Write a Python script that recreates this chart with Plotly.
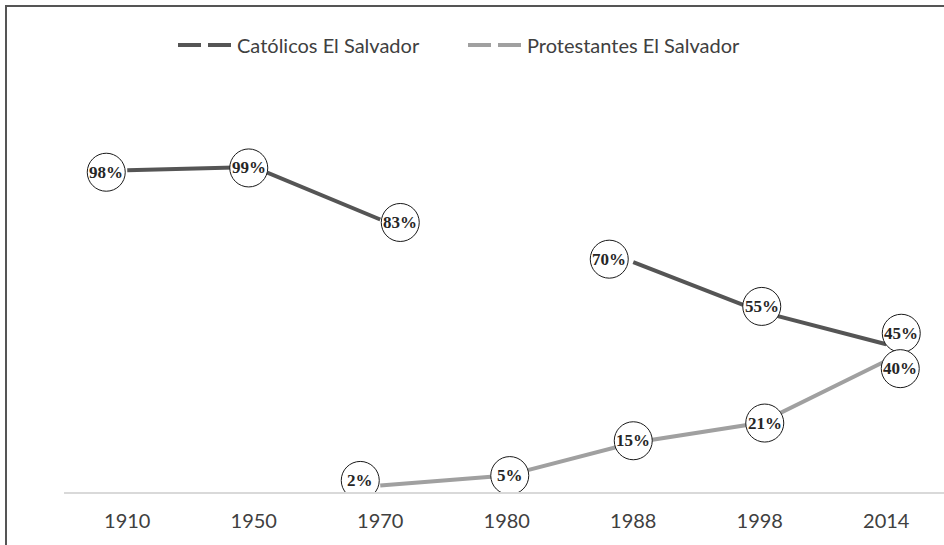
import plotly.graph_objects as go

years = ["1910", "1950", "1970", "1980", "1988", "1998", "2014"]
catolicos = [98, 99, 83, None, 70, 55, 45]
protestantes = [None, None, 2, 5, 15, 21, 40]

# label placement (pixel offsets of the circled labels from their points)
cat_dx = [-21, -5, 20, 0, -24, 2, 15]
cat_dy = [-2, -1, -3, 0, 3, 5, 11]
pro_dx = [0, 0, -20, 3, 0, 5, 14]
pro_dy = [0, 0, 5, 0, 2, 0, -8]

CAT_COLOR = "#555555"
PRO_COLOR = "#a0a0a0"
TEXT_COLOR = "#404040"

W, H = 944, 545
ML, MR, MT, MB = 64, 0, 98, 53
plot_w = W - ML - MR
plot_h = H - MT - MB
cat_px = 126.5
xs = list(range(len(years)))

fig = go.Figure()

fig.add_trace(go.Scatter(x=xs, y=catolicos, mode="lines", line=dict(color=CAT_COLOR, width=4),
                         showlegend=False, hoverinfo="skip", connectgaps=False, cliponaxis=True))
fig.add_trace(go.Scatter(x=xs, y=protestantes, mode="lines", line=dict(color=PRO_COLOR, width=4),
                         showlegend=False, hoverinfo="skip", connectgaps=False))
# legend entries (dashed symbols)
fig.add_trace(go.Scatter(x=[None], y=[None], mode="lines", name="Católicos El Salvador",
                         line=dict(color=CAT_COLOR, width=4, dash="23px,7px")))
fig.add_trace(go.Scatter(x=[None], y=[None], mode="lines", name="Protestantes El Salvador",
                         line=dict(color=PRO_COLOR, width=4, dash="23px,7px")))

shapes = []
annotations = []
R = 19
for series, dxs, dys in ((catolicos, cat_dx, cat_dy), (protestantes, pro_dx, pro_dy)):
    for i, v in enumerate(series):
        if v is None:
            continue
        dx, dy = dxs[i], dys[i]
        shapes.append(dict(type="circle", xref="x", yref="y", xsizemode="pixel", ysizemode="pixel",
                           xanchor=i, yanchor=v, x0=dx - R, x1=dx + R, y0=dy - R, y1=dy + R,
                           fillcolor="white", line=dict(color="#1a1a1a", width=1), layer="above"))
        annotations.append(dict(x=i, y=v, xref="x", yref="y", text=f"{v}%", showarrow=False,
                                xshift=dx, yshift=dy,
                                font=dict(family="Liberation Serif", size=17, color="#262626",
                                          weight="bold")))


def px_to_paper_x(px):
    return (px - ML) / plot_w


def px_to_paper_y(py):
    return (H - MB - py) / plot_h


# outer frame (cropped on right and bottom): left and top edges only
frame = dict(color="#555555", width=2)
shapes.append(dict(type="line", xref="paper", yref="paper",
                   x0=px_to_paper_x(6), x1=px_to_paper_x(6),
                   y0=px_to_paper_y(560), y1=px_to_paper_y(5), line=frame, layer="below"))
shapes.append(dict(type="line", xref="paper", yref="paper",
                   x0=px_to_paper_x(5), x1=px_to_paper_x(944),
                   y0=px_to_paper_y(6), y1=px_to_paper_y(6), line=frame, layer="below"))

fig.update_layout(
    width=W, height=H,
    margin=dict(l=ML, r=MR, t=MT, b=MB, pad=0),
    paper_bgcolor="white", plot_bgcolor="white",
    shapes=shapes, annotations=annotations,
    showlegend=True,
    legend=dict(orientation="h", x=px_to_paper_x(173), xanchor="left",
                y=px_to_paper_y(45), yanchor="middle",
                font=dict(family="Lato", size=20, color=TEXT_COLOR),
                itemwidth=54, entrywidth=221, bgcolor="rgba(0,0,0,0)"),
    xaxis=dict(range=[-0.5, -0.5 + plot_w / cat_px], tickmode="array", tickvals=xs, ticktext=years,
               showgrid=False, zeroline=False, showline=True, linecolor="#d9d9d9", linewidth=2,
               ticks="", ticklabelstandoff=10,
               tickfont=dict(family="Lato", size=20, color=TEXT_COLOR), fixedrange=True),
    yaxis=dict(range=[0, 120], showgrid=False, zeroline=False, showticklabels=False,
               showline=False, fixedrange=True),
)

fig.write_html("out.html", config={"displayModeBar": False},
               post_script="document.body.style.margin='0';document.body.style.overflow='hidden';")
